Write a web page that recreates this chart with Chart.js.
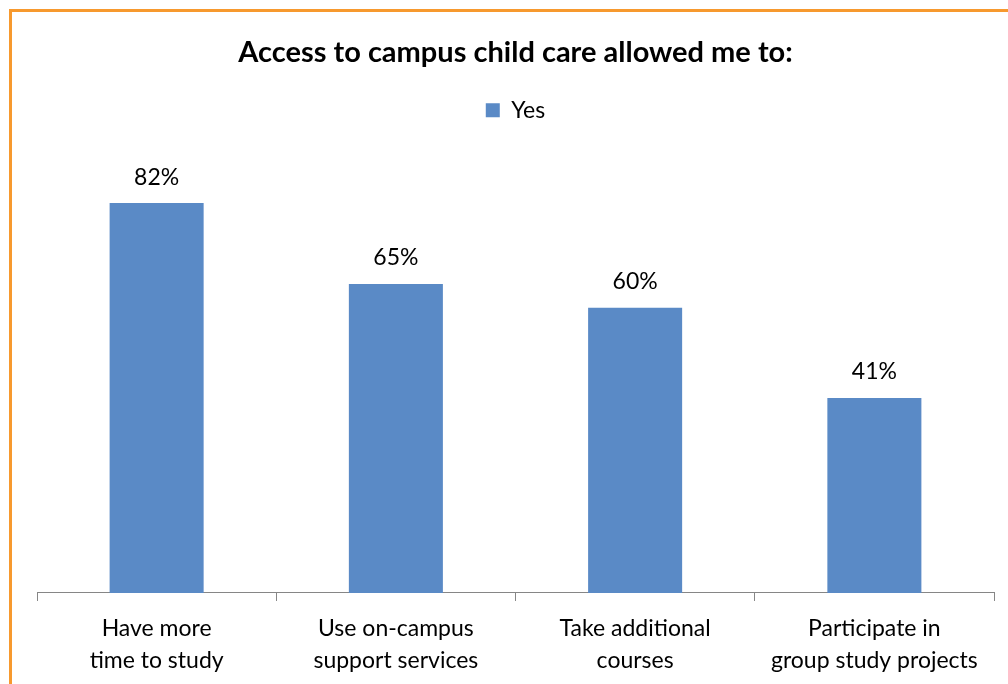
<!DOCTYPE html>
<html>
<head>
<meta charset="utf-8">
<script src="https://cdn.jsdelivr.net/npm/chart.js@4"></script>
<style>
  html, body { margin: 0; padding: 0; background: #fff; }
  .frame {
    position: absolute; left: 9px; top: 9px;
    width: 999px; height: 675px;
    border-top: 3px solid #f7992e; border-left: 3px solid #f7992e;
  }
  .frame canvas { display: block; }
</style>
</head>
<body>
<div class="frame"><canvas id="childCareChart" width="996" height="672"></canvas></div>
<script>
// categories and values
const categories = [
    ['Have more', 'time to study'],
    ['Use on-campus', 'support services'],
    ['Take additional', 'courses'],
    ['Participate in', 'group study projects']
];
const yesValues = [82, 65, 60, 41];

const FONT = "Lato, 'Open Sans', sans-serif";

// draws the percent above every bar
const barLabels = {
    id: 'barLabels',
    afterDatasetsDraw(chart) {
        const ctx = chart.ctx;
        ctx.save();
        ctx.font = '23px ' + FONT;
        ctx.fillStyle = '#000';
        ctx.textAlign = 'center';
        ctx.textBaseline = 'middle';
        chart.getDatasetMeta(0).data.forEach((bar, i) => {
            ctx.fillText(yesValues[i] + '%', bar.x, bar.y - 26);
        });
        ctx.restore();
    }
};

new Chart(document.getElementById('childCareChart').getContext('2d'), {
    type: 'bar',
    data: {
        labels: categories,
        datasets: [{
            label: 'Yes',
            data: yesValues,
            backgroundColor: '#5a8ac6',
            categoryPercentage: 1,
            barPercentage: 0.393
        }]
    },
    options: {
        responsive: false,
        animation: false,
        layout: { padding: { left: 25, right: 14, top: 0, bottom: -4 } },
        plugins: {
            title: {
                display: true,
                text: 'Access to campus child care allowed me to:',
                color: '#000',
                font: { family: FONT, size: 29, weight: 'bold' },
                padding: { top: 23, bottom: 19 }
            },
            legend: {
                position: 'top',
                labels: {
                    color: '#000',
                    font: { family: FONT, size: 23 },
                    boxWidth: 14,
                    boxHeight: 14,
                    padding: 10
                }
            },
            tooltip: { enabled: false }
        },
        scales: {
            y: {
                display: false,
                min: 0,
                max: 97
            },
            x: {
                grid: {
                    drawOnChartArea: false,
                    drawTicks: true,
                    tickLength: 8,
                    color: '#868686'
                },
                border: { display: true, color: '#868686', width: 1 },
                ticks: {
                    color: '#000',
                    padding: 12,
                    maxRotation: 0,
                    font: { family: FONT, size: 23, lineHeight: 1.37 }
                }
            }
        }
    },
    plugins: [barLabels]
});
</script>
</body>
</html>
